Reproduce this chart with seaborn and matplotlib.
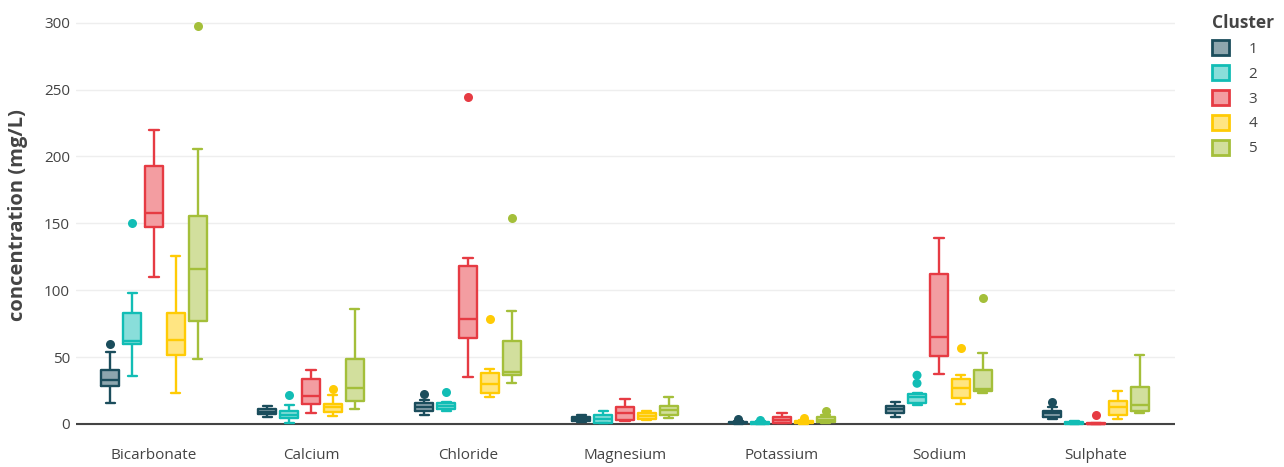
import matplotlib
matplotlib.use("Agg")
import matplotlib.pyplot as plt
from matplotlib.patches import Patch
import numpy as np
import pandas as pd
import seaborn as sns

# ions on the x axis, clusters as hue
ions = ["Bicarbonate", "Calcium", "Chloride", "Magnesium", "Potassium", "Sodium", "Sulphate"]
clusters = ["1", "2", "3", "4", "5"]
colors = ["#1B4D5C", "#12BDB5", "#E63B43", "#FFCB05", "#A4BF3A"]

# five-number summaries, one row per cluster, one column per ion
whisker_low = [
    [16, 5.5, 6.7, 1.2, 0, 5.5, 3.5],
    [36, 1, 9.7, 0.5, 0, 14, 0],
    [110, 8, 34.9, 2, 0.5, 37.4, 0],
    [23.4, 6, 20.5, 3, 0, 15, 3.5],
    [48.6, 11, 30.9, 4.5, 1, 23.5, 8.5],
]
quart1 = [
    [28.5, 7.2, 9.8, 2, 0.5, 8.5, 5],
    [59.6, 4.2, 10.8, 1, 0.3, 16, 0.3],
    [147.6, 15, 64.3, 3, 1, 50.9, 0],
    [51.4, 8.7, 23, 4, 0.5, 19.7, 6.7],
    [77, 17.4, 36.7, 7, 1.5, 24.5, 9.7],
]
median = [
    [33, 9.2, 12.9, 3.5, 1, 11, 8],
    [62.3, 7, 13.5, 3.5, 0.8, 20, 1],
    [157.6, 21, 78.6, 8.5, 3, 65.3, 0.2],
    [62.8, 12.5, 29.9, 6, 1.5, 27.2, 12.5],
    [115.7, 26.7, 38.5, 10.5, 3, 26, 14.2],
]
quart3 = [
    [40, 11.5, 16, 5, 1.8, 13.5, 10],
    [82.8, 10, 15.7, 6.5, 1.5, 22.5, 1.8],
    [192.5, 33.4, 118.4, 13, 5, 112.2, 0.5],
    [82.8, 15, 38.4, 8, 2.5, 33.9, 17.2],
    [155.6, 48.9, 61.9, 13.5, 5.5, 40.4, 27.9],
]
whisker_high = [
    [54, 13.5, 18, 6.5, 2.2, 16.5, 12.5],
    [97.8, 14.5, 16.5, 10, 2, 23.5, 2.5],
    [219.5, 40.4, 123.7, 18.5, 8, 139, 0.8],
    [125.7, 21.5, 41.4, 9.5, 3, 36.4, 24.9],
    [205.7, 85.8, 84.8, 20, 6.5, 53.4, 51.4],
]

# outlier points
out_ion = ["Bicarbonate", "Bicarbonate", "Bicarbonate", "Calcium", "Calcium",
           "Chloride", "Chloride", "Chloride", "Chloride", "Chloride",
           "Potassium", "Potassium", "Potassium", "Potassium",
           "Sodium", "Sodium", "Sodium", "Sodium", "Sulphate", "Sulphate"]
out_cluster = ["1", "2", "5", "2", "4",
               "1", "2", "3", "4", "5",
               "1", "2", "4", "5",
               "2", "2", "4", "5", "1", "3"]
out_value = [60, 150, 297.7, 22, 26.4,
             22.2, 23.7, 244.4, 78.3, 153.9,
             3.5, 3, 4.5, 9.5,
             30.4, 36.4, 56.6, 94, 16.5, 6.7]

rows = []
for ci, cl in enumerate(clusters):
    for ii, ion in enumerate(ions):
        for stat in (whisker_low, quart1, median, quart3, whisker_high):
            rows.append({"ion": ion, "cluster": cl, "value": stat[ci][ii]})
df = pd.DataFrame(rows)
outliers = pd.DataFrame({"ion": out_ion, "cluster": out_cluster, "value": out_value})

sns.set_style("white")
plt.rcParams["font.family"] = ["Open Sans", "DejaVu Sans"]

light = [tuple(0.5 * np.array(matplotlib.colors.to_rgb(c)) + 0.5) for c in colors]

fig = plt.figure(figsize=(12.84, 4.67), dpi=100)
ax = fig.add_axes([75.5 / 1284, 23 / 467, 1099 / 1284, 436 / 467])

box_kw = dict(data=df, x="ion", y="value", hue="cluster", order=ions, hue_order=clusters,
              whis=(0, 100), width=0.7, gap=0.18, dodge=True, saturation=1,
              legend=False, ax=ax)
# filled boxes underneath, outlines on top
sns.boxplot(palette=light, fill=True, linewidth=0, **box_kw)
sns.boxplot(palette=colors, fill=False, linewidth=1.7, **box_kw)

n_before = len(ax.collections)
sns.stripplot(data=outliers, x="ion", y="value", hue="cluster", order=ions,
              hue_order=clusters, palette=colors, dodge=True, jitter=False,
              size=6.5, linewidth=0, legend=False, ax=ax)
# stripplot dodges over 0.8 of the category; boxes use 0.7
for coll in ax.collections[n_before:]:
    offs = coll.get_offsets()
    base = np.round(offs[:, 0])
    offs[:, 0] = base + (offs[:, 0] - base) * 0.7 / 0.8
    coll.set_offsets(offs)

ax.set_xlim(-0.5, len(ions) - 0.5)
ax.set_ylim(-15, 311)
ax.set_yticks(range(0, 301, 50))
ax.yaxis.grid(True, color="#EEEEEE", linewidth=1)
ax.set_axisbelow(True)
ax.axhline(0, color="#444444", linewidth=1.5, zorder=1)
for s in ax.spines.values():
    s.set_visible(False)
ax.tick_params(axis="both", length=0, labelsize=11, colors="#444444")
ax.tick_params(axis="y", pad=4)
ax.tick_params(axis="x", pad=3)
ax.set_xlabel("")
ax.set_ylabel("concentration (mg/L)", fontsize=14.5, fontweight="bold", color="#444444")
ax.yaxis.set_label_coords(-0.043, 0.525)

handles = [Patch(facecolor=light[i], edgecolor=colors[i], linewidth=2, label=clusters[i])
           for i in range(len(clusters))]
leg = fig.legend(handles=handles, title="Cluster", loc="upper left",
                 bbox_to_anchor=(1198 / 1284, 1.0), frameon=False,
                 fontsize=11, handlelength=1.1, handleheight=1.1,
                 handletextpad=1.3, labelspacing=0.55)
leg._legend_box.align = "left"
leg.get_title().set_fontweight("bold")
leg.get_title().set_fontsize(12.5)
leg.get_title().set_color("#444444")
for t in leg.get_texts():
    t.set_color("#444444")

fig.savefig("out.png", dpi=100)
